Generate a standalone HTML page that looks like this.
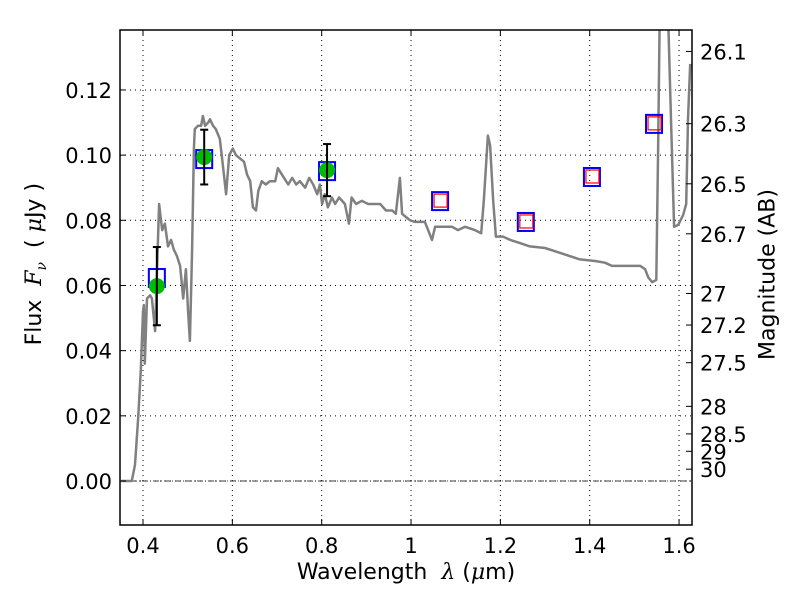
<!DOCTYPE html>
<html><head><meta charset="utf-8"><style>
body{margin:0;background:#fff}
svg{display:block;font-family:"DejaVu Sans","Liberation Sans",sans-serif}
</style></head><body>
<svg id="chart" width="800" height="600" viewBox="0 0 800 600"></svg>
<script>
const specWave=[0.351,0.375,0.382,0.389,0.395,0.40,0.402,0.404,0.409,0.416,0.420,0.427,0.436,0.443,0.449,0.456,0.463,0.469,0.476,0.483,0.490,0.496,0.501,0.505,0.510,0.514,0.516,0.523,0.530,0.534,0.539,0.546,0.550,0.557,0.563,0.572,0.577,0.586,0.593,0.601,0.608,0.617,0.626,0.633,0.640,0.646,0.653,0.658,0.666,0.675,0.684,0.696,0.702,0.725,0.734,0.743,0.751,0.763,0.772,0.781,0.790,0.796,0.801,0.807,0.814,0.823,0.830,0.839,0.852,0.861,0.867,0.877,0.890,0.904,0.917,0.931,0.944,0.958,0.966,0.975,0.980,0.989,0.998,1.009,1.031,1.047,1.054,1.076,1.092,1.105,1.121,1.143,1.157,1.163,1.172,1.177,1.184,1.190,1.206,1.222,1.244,1.266,1.300,1.334,1.356,1.378,1.412,1.434,1.450,1.479,1.513,1.524,1.531,1.540,1.549,1.553,1.557,1.575,1.582,1.589,1.598,1.609,1.616,1.620,1.625];
const specFlux=[0,0,0.005,0.019,0.034,0.052,0.054,0.036,0.056,0.057,0.056,0.046,0.085,0.077,0.079,0.072,0.074,0.071,0.069,0.066,0.056,0.065,0.052,0.043,0.071,0.102,0.108,0.109,0.109,0.112,0.109,0.110,0.111,0.109,0.108,0.105,0.099,0.088,0.100,0.102,0.100,0.099,0.098,0.094,0.092,0.084,0.083,0.089,0.092,0.091,0.092,0.092,0.096,0.091,0.093,0.091,0.092,0.090,0.093,0.091,0.088,0.091,0.085,0.088,0.084,0.087,0.085,0.087,0.085,0.079,0.087,0.085,0.086,0.085,0.085,0.085,0.083,0.083,0.082,0.093,0.082,0.081,0.080,0.0795,0.0795,0.074,0.078,0.078,0.078,0.077,0.078,0.077,0.076,0.086,0.106,0.103,0.086,0.075,0.075,0.074,0.073,0.072,0.0715,0.070,0.069,0.068,0.0675,0.067,0.066,0.066,0.066,0.065,0.0625,0.061,0.0617,0.1016,0.145,0.145,0.111,0.078,0.0786,0.0816,0.085,0.111,0.128];
const obsWave=[0.431,0.537,0.812];
const obsFlux=[0.0598,0.0994,0.0954];
const obsErr=[0.0120,0.0084,0.0080];
const modelWave=[0.431,0.537,0.812,1.065,1.257,1.405,1.544];
const modelFlux=[0.0626,0.0991,0.0954,0.0862,0.0798,0.0936,0.1099];
const predWave=[1.065,1.257,1.405,1.544];
const predFlux=[0.0862,0.0798,0.0936,0.1099];
const xTicks=[0.4,0.6,0.8,1.0,1.2,1.4,1.6];
const xTickLabels=["0.4","0.6","0.8","1","1.2","1.4","1.6"];
const yTicks=[0,0.02,0.04,0.06,0.08,0.10,0.12];
const yTickLabels=["0.00","0.02","0.04","0.06","0.08","0.10","0.12"];
const magTicks=[26.1,26.3,26.5,26.7,27,27.2,27.5,28,28.5,29,30];

const L=120,R=692,T=30,B=525,X0=0.3485,X1=1.629,Y0=-0.0135,Y1=0.1384;
const sx=v=>L+(v-X0)/(X1-X0)*(R-L);
const sy=v=>B-(v-Y0)/(Y1-Y0)*(B-T);
const svg=document.getElementById('chart');
const NS='http://www.w3.org/2000/svg';
function mk(tag,attrs,parent){const e=document.createElementNS(NS,tag);for(const k in attrs)e.setAttribute(k,attrs[k]);(parent||svg).appendChild(e);return e;}

const defs=mk('defs',{});const cp=mk('clipPath',{id:'clip'},defs);mk('rect',{x:L,y:T,width:R-L,height:B-T},cp);

const grid=mk('g',{});


xTicks.forEach(v=>mk('line',{x1:sx(v),x2:sx(v),y1:T,y2:B,stroke:'#000','stroke-width':1,'stroke-dasharray':'1,4'},grid));
yTicks.forEach(v=>mk('line',{x1:L,x2:R,y1:sy(v),y2:sy(v),stroke:'#000','stroke-width':1,'stroke-dasharray':'1,4'},grid));
mk('line',{x1:L,x2:R,y1:sy(0),y2:sy(0),stroke:'#000','stroke-width':0.8,'stroke-dasharray':'6,2,1,2'},grid);

const g=mk('g',{'clip-path':'url(#clip)'});
const pts=specWave.map((w,i)=>sx(w).toFixed(1)+','+sy(specFlux[i]).toFixed(1)).join(' ');
const line=mk('polyline',{points:pts,fill:'none',stroke:'#808080','stroke-width':2.5,'stroke-linejoin':'round'},g);



modelWave.forEach((w,i)=>{const r=mk('rect',{x:sx(w)-8,y:sy(modelFlux[i])-8,width:16,height:18,fill:'none',stroke:'#0000ff','stroke-width':2});

});
predWave.forEach((w,i)=>{const r=mk('rect',{x:sx(w)-6,y:sy(predFlux[i])-6,width:13,height:13,fill:'none',stroke:'#ff0000','stroke-width':1.2});

});
obsWave.forEach((w,i)=>{
const c=mk('circle',{cx:sx(w),cy:sy(obsFlux[i]),r:8,fill:'#00bb00'});


const e=mk('g',{stroke:'#000','stroke-width':2});


const x=sx(w),y1=sy(obsFlux[i]+obsErr[i]),y2=sy(obsFlux[i]-obsErr[i]);
mk('line',{x1:x,x2:x,y1:y1,y2:y2},e);mk('line',{x1:x-4,x2:x+4,y1:y1,y2:y1},e);mk('line',{x1:x-4,x2:x+4,y1:y2,y2:y2},e);
});

const frame=mk('rect',{x:L,y:T,width:R-L,height:B-T,fill:'none',stroke:'#000','stroke-width':1.5});



xTicks.forEach((v,i)=>{mk('line',{x1:sx(v),x2:sx(v),y1:B,y2:B-6,stroke:'#000'});mk('line',{x1:sx(v),x2:sx(v),y1:T,y2:T+6,stroke:'#000'});
const t=mk('text',{x:sx(v),y:B+28,'text-anchor':'middle','font-size':21});t.textContent=xTickLabels[i];

});
yTicks.forEach((v,i)=>{mk('line',{x1:L,x2:L+6,y1:sy(v),y2:sy(v),stroke:'#000'});
const t=mk('text',{x:L-8,y:sy(v)+8,'text-anchor':'end','font-size':21});t.textContent=yTickLabels[i];

});
magTicks.forEach(m=>{const f=Math.pow(10,(23.9-m)/2.5);const y=sy(f);
mk('line',{x1:R,x2:R-6,y1:y,y2:y,stroke:'#000'});
const t=mk('text',{x:R+8,y:y+8,'font-size':21});t.textContent=String(m);

});
</script>
<div style="position:absolute;left:0;top:0;width:800px;height:600px;pointer-events:none">
<div style="position:absolute;left:0;width:812px;top:560px;text-align:center;font:22px 'DejaVu Sans',sans-serif">Wavelength &nbsp;<i style="font-family:'DejaVu Serif',serif">λ</i> (<i style="font-family:'DejaVu Serif',serif">μ</i>m)</div>
<div style="position:absolute;left:-64px;top:250px;width:200px;text-align:center;transform:rotate(-90deg);font:22px 'DejaVu Sans',sans-serif;white-space:nowrap">Flux &nbsp;<i style="font-family:'DejaVu Serif',serif">F<sub style="font-size:14px">ν</sub></i> &nbsp;( <i style="font-family:'DejaVu Serif',serif">μ</i>Jy )</div>
<div style="position:absolute;left:668px;top:262px;width:200px;text-align:center;transform:rotate(-90deg);font:22px 'DejaVu Sans',sans-serif;white-space:nowrap">Magnitude (AB)</div>
</div>
</body></html>
